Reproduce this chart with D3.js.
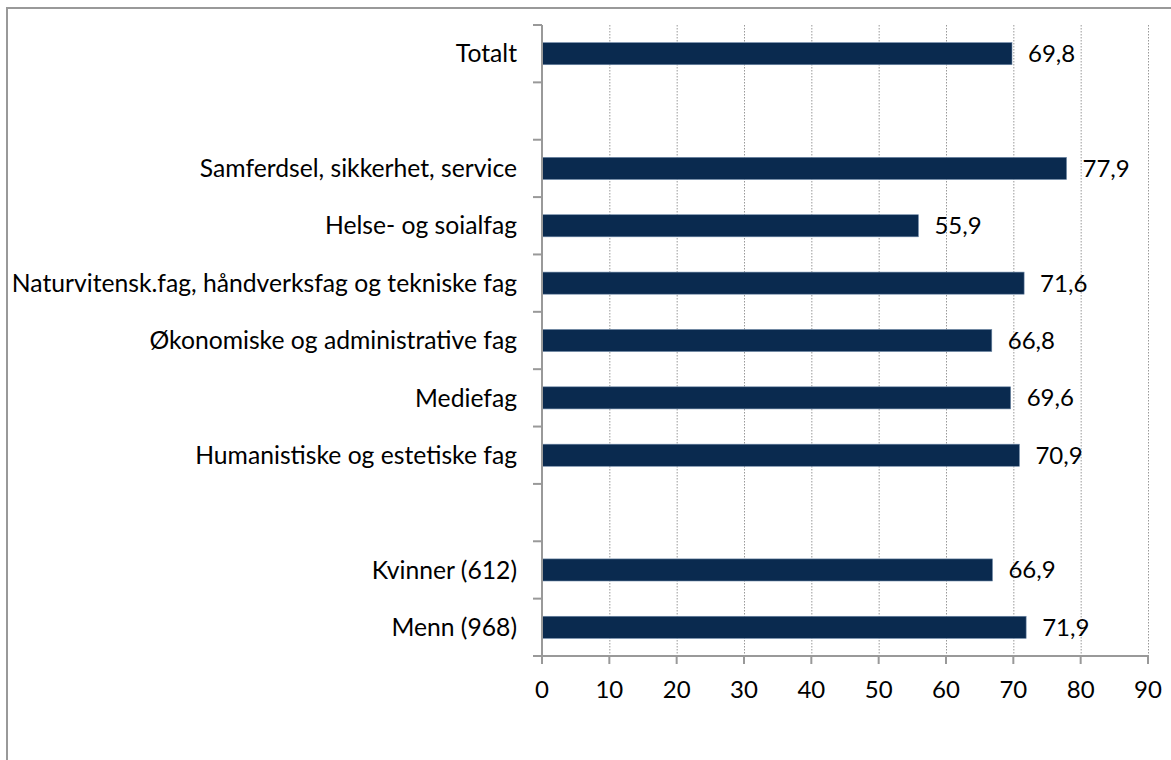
<!DOCTYPE html>
<html><head><meta charset="utf-8">
<script src="https://cdn.jsdelivr.net/npm/d3@7"></script>
<style>body{margin:0;background:#fff}svg{display:block}text{font-family:Lato,"Open Sans",sans-serif;fill:#000}</style>
</head><body><svg id="c" width="1171" height="760"></svg>
<script>
const categories = ["Totalt","", "Samferdsel, sikkerhet, service","Helse- og soialfag","Naturvitensk.fag, håndverksfag og tekniske fag","Økonomiske og administrative fag","Mediefag","Humanistiske og estetiske fag","", "Kvinner (612)","Menn (968)"];
const values = [69.8,null,77.9,55.9,71.6,66.8,69.6,70.9,null,66.9,71.9];
const xTicks = [0,10,20,30,40,50,60,70,80,90];

const svg = d3.select("#c");
const m = {left:542, right:1148, top:25, bottom:656};
const keys = categories.map((c,i)=>i);
const x = d3.scaleLinear().domain([0,90]).range([m.left,m.right]);
const y = d3.scaleBand().domain(keys).range([m.top,m.bottom]).paddingInner(0.615).paddingOuter(0.3075);

// border
svg.append("path").attr("d","M7,760 V8 H1171").attr("fill","none").attr("stroke","#999").attr("stroke-width",2);

// gridlines
svg.append("g").selectAll("line").data(xTicks.filter(d=>d>0)).join("line")
  .attr("x1",d=>x(d)+0.5).attr("x2",d=>x(d)+0.5).attr("y1",m.top).attr("y2",m.bottom)
  .attr("stroke","#999").attr("stroke-width",1).attr("stroke-dasharray","1.5,1.5");

// bars
const data = categories.map((c,i)=>({k:i,c,v:values[i]})).filter(d=>d.v!=null);
svg.append("g").selectAll("rect").data(data).join("rect")
  .attr("x",x(0)).attr("y",d=>y(d.k)).attr("width",d=>x(d.v)-x(0)).attr("height",y.bandwidth())
  .attr("fill","#0a2a4f").attr("stroke","#6d87a6").attr("stroke-width",0.6);

// value labels
svg.append("g").selectAll("text").data(data).join("text")
  .attr("x",d=>x(d.v)+16).attr("y",d=>y(d.k)+y.bandwidth()/2).attr("dy","0.35em")
  .attr("font-size",24).text(d=>d3.format(".1f")(d.v).replace(".",","));

// y axis
const yAxis = svg.append("g");
yAxis.append("line").attr("x1",m.left).attr("x2",m.left).attr("y1",m.top).attr("y2",m.bottom+8).attr("stroke","#999").attr("stroke-width",2);
const bounds = d3.range(categories.length+1).map(i=>m.top + i*(m.bottom-m.top)/categories.length);
yAxis.selectAll("line.t").data(bounds).join("line").attr("class","t")
  .attr("x1",m.left-9).attr("x2",m.left).attr("y1",d=>d).attr("y2",d=>d).attr("stroke","#999").attr("stroke-width",2);
yAxis.selectAll("text").data(categories.map((c,i)=>({c,k:i})).filter(d=>d.c)).join("text")
  .attr("x",517).attr("y",d=>y(d.k)+y.bandwidth()/2).attr("dy","0.35em").attr("text-anchor","end")
  .attr("font-size",24.7).text(d=>d.c);

// x axis
const xAxis = svg.append("g");
xAxis.append("line").attr("x1",m.left-9).attr("x2",m.right+1).attr("y1",m.bottom).attr("y2",m.bottom).attr("stroke","#999").attr("stroke-width",2);
xAxis.selectAll("line.t").data(xTicks).join("line").attr("class","t")
  .attr("x1",d=>x(d)).attr("x2",d=>x(d)).attr("y1",m.bottom).attr("y2",m.bottom+8).attr("stroke","#999").attr("stroke-width",2);
xAxis.selectAll("text").data(xTicks).join("text")
  .attr("x",d=>x(d)).attr("y",698).attr("text-anchor","middle").attr("font-size",24).text(d=>d);
</script></body></html>
